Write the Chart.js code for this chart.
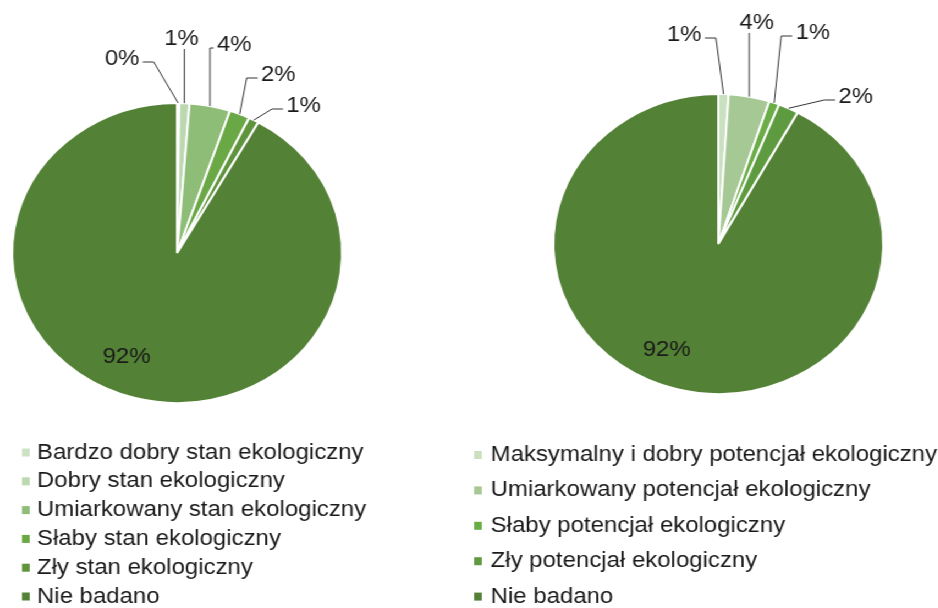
<!DOCTYPE html>
<html>
<head>
<meta charset="utf-8">
<script src="https://cdn.jsdelivr.net/npm/chart.js@4.4.1/dist/chart.umd.min.js"></script>
<style>
  html, body { margin: 0; padding: 0; background: #fff; overflow: hidden; }
  /* the source picture is stretched ~10% horizontally */
  #wrap { width: 853px; height: 608px; display: flex; transform: scaleX(1.1); transform-origin: 0 0; }
</style>
</head>
<body>
<div id="wrap">
  <canvas id="stan" width="426" height="608"></canvas>
  <canvas id="potencjal" width="427" height="608"></canvas>
</div>
<script>
// --- data ---
const stanLabels = [
  'Bardzo dobry stan ekologiczny',
  'Dobry stan ekologiczny',
  'Umiarkowany stan ekologiczny',
  'Słaby stan ekologiczny',
  'Zły stan ekologiczny',
  'Nie badano'
];
const stanValues = [0.2, 1, 4, 2, 1, 92];
const stanColors = ['#cde2c5', '#bcd8b1', '#8dbd76', '#6aa846', '#5d943c', '#538135'];

const potLabels = [
  'Maksymalny i dobry potencjał ekologiczny',
  'Umiarkowany potencjał ekologiczny',
  'Słaby potencjał ekologiczny',
  'Zły potencjał ekologiczny',
  'Nie badano'
];
const potValues = [1, 4, 1, 2, 92];
const potColors = ['#c9e0c1', '#a5c895', '#6aac45', '#5e9b40', '#538135'];

// where each percentage label sits, relative to the pie centre
const stanLabelPos = [[-50, -194], [4, -214], [52, -208], [92, -178], [115, -147], [-46, 104]];
const potLabelPos = [[-31, -209], [35, -221], [86, -211], [125, -147], [-47, 106]];

const FONT = '21.8px "Liberation Sans", Arial, sans-serif';
const TEXT = '#1a1a1a';

const pieDecor = {
  id: 'pieDecor',
  afterDraw(chart, args, opts) {
    const ctx = chart.ctx;
    const meta = chart.getDatasetMeta(0);
    const ds = chart.data.datasets[0];
    const total = ds.data.reduce((a, b) => a + b, 0);
    ctx.save();
    ctx.font = FONT;
    ctx.textBaseline = 'middle';
    ctx.strokeStyle = '#333';
    ctx.lineWidth = 1;

    meta.data.forEach((arc, i) => {
      const txt = Math.round(ds.data[i] / total * 100) + '%';
      const [dx, dy] = opts.labelPos[i];
      const lx = arc.x + dx, ly = arc.y + dy;
      ctx.fillStyle = TEXT;
      ctx.textAlign = 'center';
      ctx.fillText(txt, lx, ly);

      const R = arc.outerRadius;
      if (Math.hypot(dx, dy) < R) return; // label inside the slice
      const mid = (arc.startAngle + arc.endAngle) / 2;
      const ax = arc.x + R * Math.cos(mid), ay = arc.y + R * Math.sin(mid);
      const w = ctx.measureText(txt).width;
      const x0 = lx - w / 2 - 3, x1 = lx + w / 2 + 3;
      ctx.beginPath();
      if (ax >= x0 && ax <= x1) {
        ctx.moveTo(ax, ly + 10);
        ctx.lineTo(ax, ay);
      } else {
        const sx = ax < x0 ? x0 : x1;
        const dir = ax < x0 ? -1 : 1;
        const hx = sx + dir * Math.min(10, Math.abs(ax - sx));
        ctx.moveTo(sx, ly + 3);
        ctx.lineTo(hx, ly + 3);
        ctx.lineTo(ax, ay);
      }
      ctx.stroke();
    });

    // legend, one entry per row
    const lg = opts.legend;
    ctx.textAlign = 'left';
    chart.data.labels.forEach((lab, i) => {
      const y = lg.y + i * lg.step;
      ctx.fillStyle = ds.backgroundColor[i];
      ctx.fillRect(lg.x, y - 4, 7, 8);
      ctx.fillStyle = TEXT;
      ctx.fillText(lab, lg.x + lg.gap, y);
    });
    ctx.restore();
  }
};

function makePie(id, labels, values, colors, padding, labelPos, legend) {
  return new Chart(document.getElementById(id), {
    type: 'pie',
    data: {
      labels: labels,
      datasets: [{
        data: values,
        backgroundColor: colors,
        borderColor: '#fff',
        borderWidth: 2
      }]
    },
    options: {
      responsive: false,
      animation: false,
      layout: { padding: padding },
      plugins: {
        legend: { display: false },
        tooltip: { enabled: false },
        pieDecor: { labelPos: labelPos, legend: legend }
      }
    },
    plugins: [pieDecor]
  });
}

makePie('stan', stanLabels, stanValues, stanColors,
  { left: 10, right: 114, top: 102, bottom: 204 },
  stanLabelPos, { x: 20, gap: 13.6, y: 452.5, step: 28.8 });

makePie('potencjal', potLabels, potValues, potColors,
  { left: 76, right: 49, top: 93, bottom: 213 },
  potLabelPos, { x: 5, gap: 15, y: 455, step: 35.4 });
</script>
</body>
</html>
